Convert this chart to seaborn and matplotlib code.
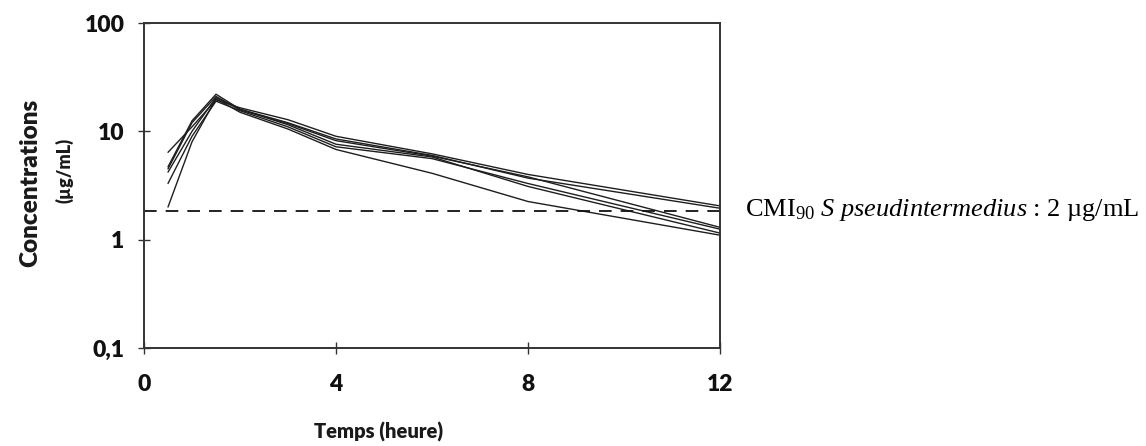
import matplotlib
matplotlib.use("Agg")
import matplotlib.pyplot as plt
import seaborn as sns
import pandas as pd
import numpy as np

# Data
times = [0.5, 1, 1.5, 2, 3, 4, 6, 8, 12]
subject_1 = [6.4, 11.0, 19.5, 16.5, 12.8, 9.0, 6.2, 4.0, 2.05]
subject_2 = [4.7, 12.5, 22.0, 16.0, 12.0, 8.5, 6.0, 3.7, 1.95]
subject_3 = [4.2, 10.0, 20.5, 16.0, 11.5, 7.6, 5.8, 3.1, 1.15]
subject_4 = [3.3, 9.0, 19.0, 15.5, 11.0, 7.2, 5.6, 3.3, 1.25]
subject_5 = [2.0, 8.0, 20.0, 15.0, 10.5, 6.8, 4.1, 2.25, 1.1]
subject_6 = [4.5, 12.0, 21.0, 15.8, 11.8, 8.2, 5.9, 3.8, 1.3]
subjects = ["S1", "S2", "S3", "S4", "S5", "S6"]
series = [subject_1, subject_2, subject_3, subject_4, subject_5, subject_6]
mic = 1.82

yticks = [0.1, 1, 10, 100]
yticklabels = ["0,1", "1", "10", "100"]
xticks = [0, 4, 8, 12]
xticklabels = ["0", "4", "8", "12"]

df = pd.DataFrame({
    "Temps": np.tile(times, len(subjects)),
    "Conc": np.concatenate(series),
    "Sujet": np.repeat(subjects, len(times)),
})

sns.set_theme(style="white")
plt.rcParams["font.family"] = ["Lato", "DejaVu Sans"]
plt.rcParams["mathtext.fontset"] = "custom"
plt.rcParams["mathtext.rm"] = "Liberation Serif"
plt.rcParams["mathtext.it"] = "Liberation Serif:italic"

fig = plt.figure(figsize=(11.46, 4.46), dpi=100)
ax = fig.add_axes([144/1146, 1-348/446, (720-144)/1146, (348-23)/446])

sns.lineplot(data=df, x="Temps", y="Conc", hue="Sujet", units="Sujet",
             estimator=None, palette=["#1e1e1e"]*len(subjects),
             linewidth=1.0, legend=False, ax=ax)
ax.axhline(mic, color="#111111", linewidth=1.3, dashes=(7, 5))

ax.set_yscale("log")
ax.set_xlim(0, 12)
ax.set_ylim(0.1, 100)
ax.set_yticks(yticks)
ax.set_yticklabels(yticklabels)
ax.yaxis.set_minor_locator(matplotlib.ticker.NullLocator())
ax.set_xticks(xticks)
ax.set_xticklabels(xticklabels)
ax.tick_params(axis="y", direction="inout", length=8, width=1, pad=10,
               labelsize=16.5, color="#333333")
ax.tick_params(axis="x", direction="inout", length=8, width=1, pad=15,
               labelsize=16.5, color="#333333")
ax.tick_params(left=True, bottom=True)
for lab in ax.get_xticklabels() + ax.get_yticklabels():
    lab.set_fontweight("heavy")
    lab.set_color("#111111")
for sp in ax.spines.values():
    sp.set_visible(True)
    sp.set_color("#333333")
    sp.set_linewidth(1.4)

ax.set_xlabel("")
ax.set_ylabel("")
fig.text(379/1146, 1-432/446, "Temps (heure)", ha="center", va="center",
         fontsize=14.5, fontweight="heavy", color="#1a1a1a")
fig.text(30/1146, 1-183/446, "Concentrations", ha="center", va="center",
         rotation=90, fontsize=17.5, fontweight="heavy", color="#1a1a1a")
fig.text(64/1146, 1-170/446, "(µg/mL)", ha="center", va="center",
         rotation=90, fontsize=13, fontweight="heavy", color="#1a1a1a")
fig.text(745/1146, 1-210/446,
         r"CMI$_{90}$ $\mathit{S\ pseudintermedius}$ : 2 µg/mL",
         ha="left", va="center", fontsize=19, family="Liberation Serif",
         color="black")

fig.savefig("out.png", dpi=100)
